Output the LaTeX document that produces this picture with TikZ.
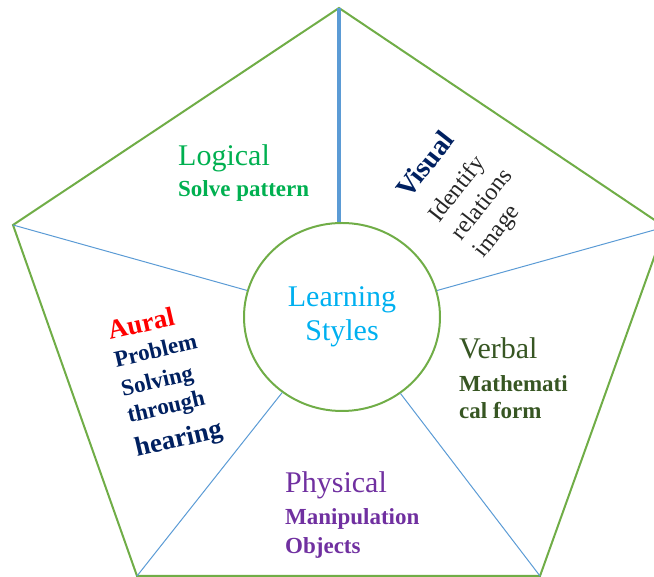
\documentclass[tikz,border=0pt]{standalone}
\usepackage{fontspec}
\setmainfont{Liberation Serif}
\usetikzlibrary{shapes.geometric}

\definecolor{rimgreen}{HTML}{70AD47}
\definecolor{spokeblue}{HTML}{5B9BD5}
\definecolor{logicgreen}{HTML}{00B050}
\definecolor{navy}{HTML}{002060}
\definecolor{verbgreen}{HTML}{375623}
\definecolor{physpurple}{HTML}{7030A0}
\definecolor{centreblue}{HTML}{00B0F0}

\begin{document}
\begin{tikzpicture}[x=1pt, y=1pt,
  rim/.style={draw=rimgreen, line width=2pt},
  spoke/.style={draw=spokeblue, line width=1pt},
  title/.style={anchor=base west, inner sep=0pt, font=\fontsize{30}{36}\selectfont},
  body/.style={anchor=base west, inner sep=0pt, font=\bfseries\fontsize{23}{28}\selectfont}]

\useasboundingbox (0,0) rectangle (654,577);

% -----------------------------
% Pentagon and centre
% -----------------------------
\coordinate (T)  at (339,569);
\coordinate (R)  at (665,350);
\coordinate (BR) at (540,1);
\coordinate (BL) at (137,1);
\coordinate (L)  at (13,352);

\draw[rim] (T) -- (R) -- (BR) -- (BL) -- (L) -- cycle;

\node[ellipse, rim, minimum width=196pt, minimum height=188pt, inner sep=0pt,
      align=center, text=centreblue, font=\fontsize{30}{34}\selectfont]
  (ls) at (342,260) {Learning\\Styles};

% spokes from the corners to the centre
\draw[spoke, line width=3.5pt] (T) -- (T |- ls.north);
\draw[spoke] (R)  -- (ls);
\draw[spoke] (BR) -- (ls);
\draw[spoke] (BL) -- (ls);
\draw[spoke] (L)  -- (ls);

% -----------------------------
% Labels
% -----------------------------
% logical (top left)
\node[title, text=logicgreen] (logical) at (178,411) {Logical};
\node[body, text=logicgreen] (logicalA) at (178,380) {Solve pattern};

% visual (top right, turned)
\begin{scope}[shift={(409,377)}, rotate=52, transform shape]
  \node[title, text=navy, font=\bfseries\fontsize{28}{34}\selectfont] (visual) at (0,0) {Visual};
  \node[title, text=black!85, font=\fontsize{24}{30}\selectfont] (visualA) at (0,-38) {Identify};
  \node[title, text=black!85, font=\fontsize{24}{30}\selectfont] (visualB) at (0,-67) {relations};
  \node[title, text=black!85, font=\fontsize{24}{30}\selectfont] (visualC) at (0,-95) {image};
\end{scope}

% verbal (right)
\node[title, text=verbgreen] (verbal) at (459,218) {Verbal};
\node[body, text=verbgreen] (verbalA) at (459,185) {Mathemati};
\node[body, text=verbgreen] (verbalB) at (459,158) {cal form};

% physical (bottom)
\node[title, text=physpurple] (physical) at (285,84) {Physical};
\node[body, text=physpurple] (physicalA) at (285,52) {Manipulation};
\node[body, text=physpurple] (physicalB) at (285,23) {Objects};

% aural (left, turned)
\begin{scope}[shift={(110,237)}, rotate=13, transform shape]
  \node[title, text=red, font=\bfseries\fontsize{27}{32}\selectfont] (aural) at (0,0) {Aural};
  \node[body, text=navy] (auralA) at (0,-28) {Problem};
  \node[body, text=navy] (auralB) at (0,-58) {Solving};
  \node[body, text=navy] (auralC) at (0,-85) {through};
  \node[body, text=navy, font=\bfseries\fontsize{27}{32}\selectfont] (auralD) at (0,-120) {hearing};
\end{scope}

\end{tikzpicture}
\end{document}
